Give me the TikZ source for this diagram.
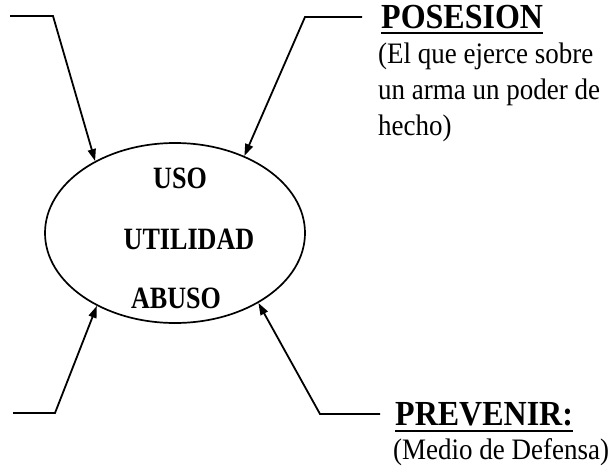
\documentclass[tikz,border=0pt]{standalone}
\usepackage{fontspec}
\setmainfont{Liberation Serif}
\usetikzlibrary{arrows.meta,shapes.geometric}
\tikzset{
  conn/.style={line width=1.8pt,-{Triangle[length=12pt,width=8pt]},line join=miter},
  oval/.style={ellipse,draw,line width=1.7pt,minimum width=260pt,minimum height=180pt,inner sep=0pt},
  ctext/.style={font=\fontsize{29}{29}\selectfont\bfseries,anchor=base,inner sep=0pt},
  title/.style={font=\fontsize{32}{32}\selectfont\bfseries,anchor=base west,inner sep=0pt},
  desc/.style={font=\fontsize{27}{27}\selectfont,anchor=base west,inner sep=0pt},
  uline/.style={line width=2.2pt}
}
\newcommand{\vs}[1]{\scalebox{1}[1.1]{#1}}
\newcommand{\cs}[1]{\scalebox{0.9}[1.07]{#1}}
\begin{document}
\begin{tikzpicture}[x=1pt,y=-1pt]
\useasboundingbox (0,0) rectangle (614,466);
\node[oval] (ell) at (175,233) {};
\node[ctext] (uso) at (180,188) {\cs{USO}};
\node[ctext] (uti) at (189,249) {\cs{UTILIDAD}};
\node[ctext] (abu) at (176,308) {\cs{ABUSO}};

\node[title] (pos) at (381,28) {\vs{POSESION}};
\draw[uline] ([yshift=-5pt]pos.base west) -- ([yshift=-5pt]pos.base east);
\node[desc] (d1) at (378,63) {\vs{(El que ejerce sobre}};
\node[desc] (d2) at (378,99) {\vs{un arma un poder de}};
\node[desc] (d3) at (378,135) {\vs{hecho)}};

\node[title] (pre) at (395,425) {\vs{PREVENIR:}};
\draw[uline] ([yshift=-6pt]pre.base west) -- ([yshift=-6pt]pre.base east);
\node[desc] (d4) at (393,459) {\vs{(Medio de Defensa)}};

\coordinate (tl0) at (10,16);  \coordinate (tl1) at (53,16);
\coordinate (tr0) at (362,17); \coordinate (tr1) at (305,17);
\coordinate (bl0) at (13,413); \coordinate (bl1) at (55,413);
\coordinate (br0) at (380,414);\coordinate (br1) at (320,414);

\draw[conn] (tl0) -- (tl1) -- (ell.138);
\draw[conn] (tr0) -- (tr1) -- (ell.48);
\draw[conn] (bl0) -- (bl1) -- (ell.223);
\draw[conn] (br0) -- (br1) -- (ell.320);
\end{tikzpicture}
\end{document}
